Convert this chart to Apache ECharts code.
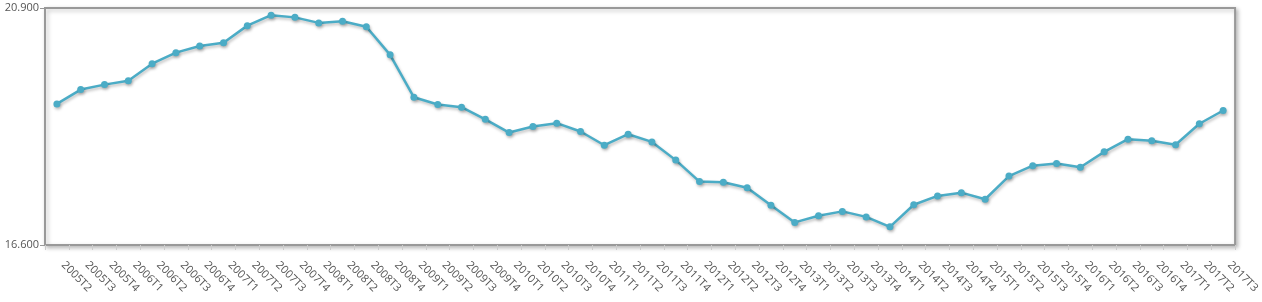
<!DOCTYPE html>
<html>
<head>
<meta charset="utf-8">
<script src="https://cdn.jsdelivr.net/npm/echarts@6/dist/echarts.min.js"></script>
<style>
html,body{margin:0;padding:0;background:#fff;}
#chart{width:1262px;height:302px;}
</style>
</head>
<body>
<div id="chart"></div>
<script>
const categories = ["2005T2","2005T3","2005T4",
  "2006T1","2006T2","2006T3","2006T4",
  "2007T1","2007T2","2007T3","2007T4",
  "2008T1","2008T2","2008T3","2008T4",
  "2009T1","2009T2","2009T3","2009T4",
  "2010T1","2010T2","2010T3","2010T4",
  "2011T1","2011T2","2011T3","2011T4",
  "2012T1","2012T2","2012T3","2012T4",
  "2013T1","2013T2","2013T3","2013T4",
  "2014T1","2014T2","2014T3","2014T4",
  "2015T1","2015T2","2015T3","2015T4",
  "2016T1","2016T2","2016T3","2016T4",
  "2017T1","2017T2","2017T3"];
const values = [19.16,19.42,19.51,19.58,
  19.89,20.09,20.21,20.27,
  20.58,20.77,20.73,20.63,
  20.66,20.56,20.05,19.28,
  19.15,19.10,18.88,18.64,
  18.75,18.81,18.66,18.41,
  18.61,18.47,18.14,17.75,
  17.74,17.64,17.32,17.01,
  17.13,17.21,17.11,16.93,
  17.33,17.49,17.55,17.43,
  17.85,18.04,18.08,18.01,
  18.29,18.52,18.49,18.42,
  18.80,19.04];
const yMin = 16.6, yMax = 20.9;

const chart = echarts.init(document.getElementById('chart'), null, {renderer:'canvas'});
chart.setOption({
  animation: false,
  backgroundColor: '#fff',
  grid: {
    left: 45, right: 21, top: 8, bottom: 57,
    show: true,
    backgroundColor: '#fff',
    borderColor: '#999',
    borderWidth: 2,
    shadowColor: 'rgba(0,0,0,0.25)',
    shadowBlur: 4,
    shadowOffsetX: 2,
    shadowOffsetY: 2,
    containLabel: false
  },
  xAxis: {
    type: 'category',
    data: categories,
    boundaryGap: true,
    axisLine: {show: true, lineStyle: {color: '#999', width: 2}},
    axisTick: {show: true, length: 5, lineStyle: {color: '#ccc', width: 1}},
    axisLabel: {
      rotate: -45, interval: 0, margin: 12, padding: [0, 0, 0, 9],
      color: '#555', fontSize: 11, fontFamily: 'Open Sans'
    },
    splitLine: {show: false}
  },
  yAxis: {
    type: 'value',
    min: yMin, max: yMax, interval: yMax - yMin,
    axisLine: {show: true, lineStyle: {color: '#999', width: 2}},
    axisTick: {show: true, length: 5, lineStyle: {color: '#999', width: 1}},
    axisLabel: {
      margin: 6, color: '#555', fontSize: 11, fontFamily: 'Open Sans',
      formatter: v => v.toFixed(3)
    },
    splitLine: {show: false}
  },
  series: [{
    type: 'line',
    data: values,
    symbol: 'circle',
    symbolSize: 7,
    lineStyle: {
      color: '#4bacc6', width: 2.5,
      shadowColor: 'rgba(0,0,0,0.25)', shadowBlur: 3, shadowOffsetX: 1, shadowOffsetY: 2
    },
    itemStyle: {
      color: '#4bacc6',
      shadowColor: 'rgba(0,0,0,0.25)', shadowBlur: 3, shadowOffsetX: 1, shadowOffsetY: 2
    }
  }]
});
</script>
</body>
</html>
